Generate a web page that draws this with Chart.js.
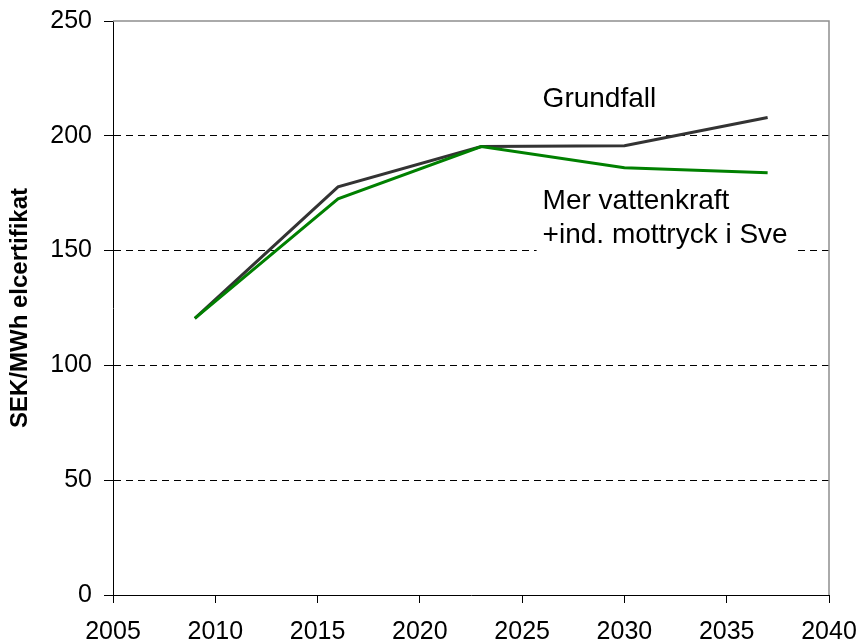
<!DOCTYPE html>
<html>
<head>
<meta charset="utf-8">
<script src="https://cdn.jsdelivr.net/npm/chart.js@4/dist/chart.umd.min.js"></script>
<style>
  html, body { margin: 0; padding: 0; background: #fff; }
  canvas { display: block; }
</style>
</head>
<body>
<canvas id="elcert" width="860" height="643"></canvas>
<script>
// years of the scenario points
const years = [2009, 2016, 2023, 2030, 2037];
// SEK/MWh
const grundfall = [120.5, 177.8, 195.3, 195.7, 208.0];
const merVattenkraft = [120.5, 172.5, 195.3, 186.1, 183.9];

const xTicks = [2005, 2010, 2015, 2020, 2025, 2030, 2035, 2040];
const yTicks = [0, 50, 100, 150, 200, 250];

const FONT = "'Liberation Sans', Arial, sans-serif";

// text labels in the plot, anchored in data units
const notes = [
  { lines: ["Grundfall"], x: 2026, y: 212.5, box: false },
  { lines: ["Mer vattenkraft", "+ind. mottryck i Sve"], x: 2026, y: 168.1, box: true }
];

const frame = {
  id: "frame",
  beforeDatasetsDraw(chart) {
    const { ctx, chartArea: a, scales } = chart;
    ctx.save();
    // grey top and right edges of the plot area
    ctx.strokeStyle = "#8f8f8f";
    ctx.lineWidth = 1.5;
    ctx.beginPath();
    ctx.moveTo(a.left, a.top);
    ctx.lineTo(a.right, a.top);
    ctx.lineTo(a.right, a.bottom);
    ctx.stroke();

    ctx.font = "28px " + FONT;
    ctx.textBaseline = "alphabetic";
    ctx.textAlign = "left";
    const lh = 34;
    notes.forEach(n => {
      const px = scales.x.getPixelForValue(n.x);
      const py = scales.y.getPixelForValue(n.y);
      if (n.box) {
        const w = Math.max(...n.lines.map(t => ctx.measureText(t).width));
        ctx.fillStyle = "#fff";
        ctx.fillRect(px - 6, py - 24, w + 12, lh * (n.lines.length - 1) + 36);
      }
      ctx.fillStyle = "#000";
      n.lines.forEach((t, i) => ctx.fillText(t, px, py + i * lh));
    });
    ctx.restore();
  }
};

new Chart(document.getElementById("elcert").getContext("2d"), {
  type: "line",
  data: {
    datasets: [
      {
        label: "Grundfall",
        data: years.map((y, i) => ({ x: y, y: grundfall[i] })),
        borderColor: "#333333",
        borderWidth: 3,
        pointRadius: 0,
        tension: 0,
        order: 2
      },
      {
        label: "Mer vattenkraft +ind. mottryck i Sve",
        data: years.map((y, i) => ({ x: y, y: merVattenkraft[i] })),
        borderColor: "#008000",
        borderWidth: 3,
        pointRadius: 0,
        tension: 0,
        order: 1
      }
    ]
  },
  options: {
    responsive: false,
    animation: false,
    devicePixelRatio: 1,
    layout: { padding: { top: 21, right: 31, left: 0, bottom: 0 } },
    plugins: {
      legend: { display: false },
      tooltip: { enabled: false }
    },
    scales: {
      x: {
        type: "linear",
        min: xTicks[0],
        max: xTicks[xTicks.length - 1],
        afterBuildTicks: s => { s.ticks = xTicks.map(v => ({ value: v })); },
        afterFit: s => { s.height = 48; s.paddingLeft = 0; s.paddingRight = 0; },
        ticks: {
          color: "#000",
          font: { family: FONT, size: 25 },
          padding: 14,
          maxRotation: 0,
          callback: v => String(v)
        },
        grid: { drawOnChartArea: false, tickLength: 8, tickColor: "#000", color: "#000" },
        border: { color: "#000", width: 1 }
      },
      y: {
        min: yTicks[0],
        max: yTicks[yTicks.length - 1],
        afterBuildTicks: s => { s.ticks = yTicks.map(v => ({ value: v })); },
        afterFit: s => { s.width = 113; s.paddingTop = 0; s.paddingBottom = 0; },
        title: {
          display: true,
          text: "SEK/MWh elcertifikat",
          color: "#000",
          font: { family: FONT, size: 24, weight: "bold" },
          padding: { top: 6, bottom: 0 }
        },
        ticks: {
          color: "#000",
          font: { family: FONT, size: 25 },
          padding: 12
        },
        grid: {
          tickLength: 9,
          tickColor: "#000",
          tickBorderDash: [],
          color: c => (c.tick && (c.tick.value === 0 || c.tick.value === 250)) ? "rgba(0,0,0,0)" : "#000",
          lineWidth: 1
        },
        border: { color: "#000", width: 1, dash: [7, 5] }
      }
    }
  },
  plugins: [frame]
});
</script>
</body>
</html>
